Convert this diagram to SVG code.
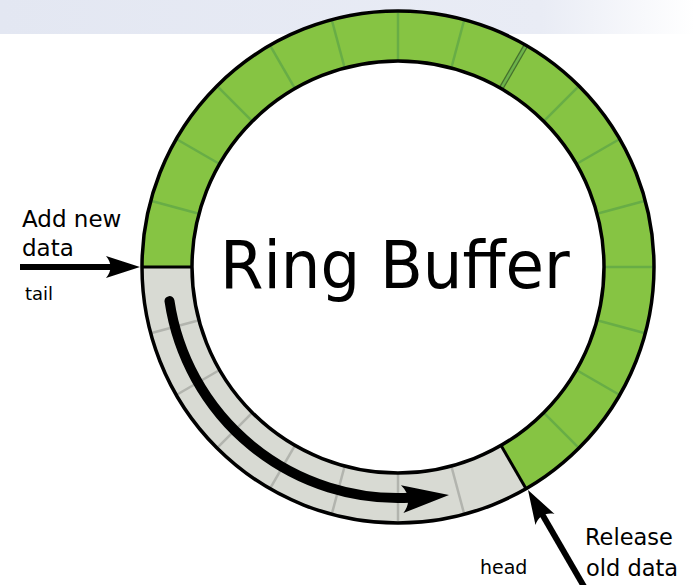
<svg xmlns="http://www.w3.org/2000/svg" width="695" height="585" viewBox="0 0 695 585">
<defs>
<linearGradient id="bar" x1="0" y1="0" x2="1" y2="0">
<stop offset="0" stop-color="#e3e7f2"/>
<stop offset="0.78" stop-color="#e9ecf5"/>
<stop offset="1" stop-color="#ffffff"/>
</linearGradient>
<path id="head" d="M0,0 L-34,-11 C-28,-4 -28,4 -34,11 Z"/>
<style>
.txt{font-family:"DejaVu Sans","Liberation Sans",sans-serif;fill:#000}
.gdiv{stroke:#68ad46;stroke-width:2.5}
.adiv{stroke:#b2b4ae;stroke-width:2.5}
.border{fill:none;stroke:#000;stroke-width:3.5}
.bound{stroke:#000;stroke-width:3}
.conn{stroke:#000;fill:none}
</style>
</defs>
<rect x="0" y="0" width="695" height="34" fill="url(#bar)"/>
<g id="ring">
<path d="M142,267 A256,256 0 1 1 526,488.7 L501,445.4 A206,206 0 1 0 192,267 Z" fill="#86c443"/>
<path d="M526,488.7 A256,256 0 0 1 142,267 L192,267 A206,206 0 0 0 501,445.4 Z" fill="#d8dad3"/>
<g class="gdiv">
<line x1="604" y1="267" x2="654" y2="267" transform="rotate(-165 398 267)"/>
<line x1="604" y1="267" x2="654" y2="267" transform="rotate(-150 398 267)"/>
<line x1="604" y1="267" x2="654" y2="267" transform="rotate(-135 398 267)"/>
<line x1="604" y1="267" x2="654" y2="267" transform="rotate(-120 398 267)"/>
<line x1="604" y1="267" x2="654" y2="267" transform="rotate(-105 398 267)"/>
<line x1="604" y1="267" x2="654" y2="267" transform="rotate(-90 398 267)"/>
<line x1="604" y1="267" x2="654" y2="267" transform="rotate(-75 398 267)"/>
<line x1="604" y1="267" x2="654" y2="267" transform="rotate(-60 398 267)" stroke="#44702c" stroke-width="5"/>
<line x1="604" y1="267" x2="654" y2="267" transform="rotate(-60 398 267)" stroke="#6cb34a" stroke-width="2.5"/>
<line x1="604" y1="267" x2="654" y2="267" transform="rotate(-45 398 267)"/>
<line x1="604" y1="267" x2="654" y2="267" transform="rotate(-30 398 267)"/>
<line x1="604" y1="267" x2="654" y2="267" transform="rotate(-15 398 267)"/>
<line x1="604" y1="267" x2="654" y2="267"/>
<line x1="604" y1="267" x2="654" y2="267" transform="rotate(15 398 267)"/>
<line x1="604" y1="267" x2="654" y2="267" transform="rotate(30 398 267)"/>
<line x1="604" y1="267" x2="654" y2="267" transform="rotate(45 398 267)"/>
</g>
<g class="adiv">
<line x1="604" y1="267" x2="654" y2="267" transform="rotate(75 398 267)"/>
<line x1="604" y1="267" x2="654" y2="267" transform="rotate(90 398 267)"/>
<line x1="604" y1="267" x2="654" y2="267" transform="rotate(105 398 267)"/>
<line x1="604" y1="267" x2="654" y2="267" transform="rotate(120 398 267)"/>
<line x1="604" y1="267" x2="654" y2="267" transform="rotate(135 398 267)"/>
<line x1="604" y1="267" x2="654" y2="267" transform="rotate(150 398 267)"/>
<line x1="604" y1="267" x2="654" y2="267" transform="rotate(165 398 267)"/>
</g>
<circle class="border" cx="398" cy="267" r="256"/>
<circle class="border" cx="398" cy="267" r="206"/>
<line class="bound" x1="141" y1="267" x2="193" y2="267"/>
<line class="bound" x1="500.5" y1="444.5" x2="526.5" y2="489.5"/>
<text class="txt" x="220" y="0" font-size="62.5" transform="translate(0,288) scale(1,1.06)">Ring Buffer</text>
</g>
<g id="connectors">
<line class="conn" x1="20" y1="267" x2="112" y2="267" stroke-width="6"/>
<use href="#head" transform="translate(140,267)"/>
<line class="conn" x1="586" y1="590" x2="542" y2="514" stroke-width="6"/>
<use href="#head" transform="translate(528,490) rotate(240)"/>
<path class="conn" d="M169.5,301.1 A231,231 0 0 0 410,497.7" stroke-width="10" stroke-linecap="round"/>
<path d="M0,0 L-47,-14 C-39,-5 -39,5 -47,14 Z" transform="translate(449,495) rotate(-5)"/>
</g>
<g id="label-add">
<text class="txt" x="22" y="227" font-size="23">Add new</text>
<text class="txt" x="22" y="256" font-size="23">data</text>
</g>
<g id="label-tail"><text class="txt" x="25" y="300" font-size="18">tail</text></g>
<g id="label-head"><text class="txt" x="480" y="574" font-size="19">head</text></g>
<g id="label-release">
<text class="txt" x="585" y="545" font-size="22.5">Release</text>
<text class="txt" x="586" y="576" font-size="22.5">old data</text>
</g>
</svg>
